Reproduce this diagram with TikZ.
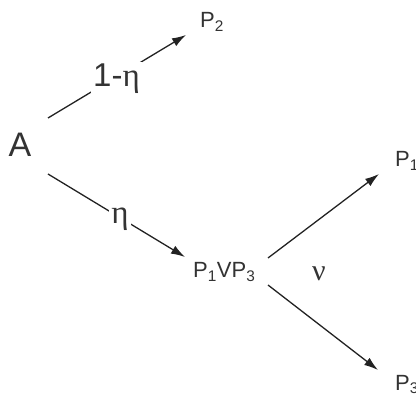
\documentclass[tikz,border=0pt]{standalone}
\usepackage{fontspec}
\setmainfont{Liberation Sans}
\newfontfamily\grk{Liberation Serif}
\usetikzlibrary{arrows.meta}
\definecolor{ink}{HTML}{333333}
\definecolor{wire}{HTML}{222222}
\tikzset{
  lbl/.style={inner sep=0pt, text=ink},
  plbl/.style={lbl, font=\fontsize{22}{22}\selectfont, anchor=base west},
  wlbl/.style={inner sep=2pt, fill=white, text=ink},
  conn/.style={draw=wire, line width=1.3pt},
  arr/.style={conn, -{Latex[length=14pt,width=9pt]}}
}
\begin{document}
\begin{tikzpicture}[x=1pt,y=-1pt]
\useasboundingbox (0,0) rectangle (416,396);
% nodes
\node[lbl, font=\fontsize{34}{34}\selectfont] (A) at (20,145) {A};
\node[plbl] (P2) at (200,28) {P\textsubscript{2}};
\node[plbl] (P13) at (193,278) {P\textsubscript{1}VP\textsubscript{3}};
\node[plbl] (P1) at (395,167) {P\textsubscript{1}};
\node[plbl] (P3) at (395,390) {P\textsubscript{3}};
\node[lbl, font=\fontsize{30}{30}\selectfont\grk] (nu) at (319,274) {ν};
% connector end points
\coordinate (Aup) at (48,118);
\coordinate (P2in) at (186,35);
\coordinate (Adn) at (48,174);
\coordinate (P13in) at (185,257);
\coordinate (P13up) at (268,258);
\coordinate (P1in) at (379,174);
\coordinate (P13dn) at (268,285);
\coordinate (P3in) at (378,370);
% connectors
\draw[arr] (Aup) -- (P2in);
\draw[arr] (Adn) -- (P13in);
\draw[arr] (P13up) -- (P1in);
\draw[arr] (P13dn) -- (P3in);
% edge labels
\node[wlbl, anchor=base west, font=\fontsize{33}{33}\selectfont] (l1) at (91,87) {1-{\grk η}};
\node[wlbl, font=\fontsize{33}{33}\selectfont\grk] (l2) at (120,219) {η};
\end{tikzpicture}
\end{document}
